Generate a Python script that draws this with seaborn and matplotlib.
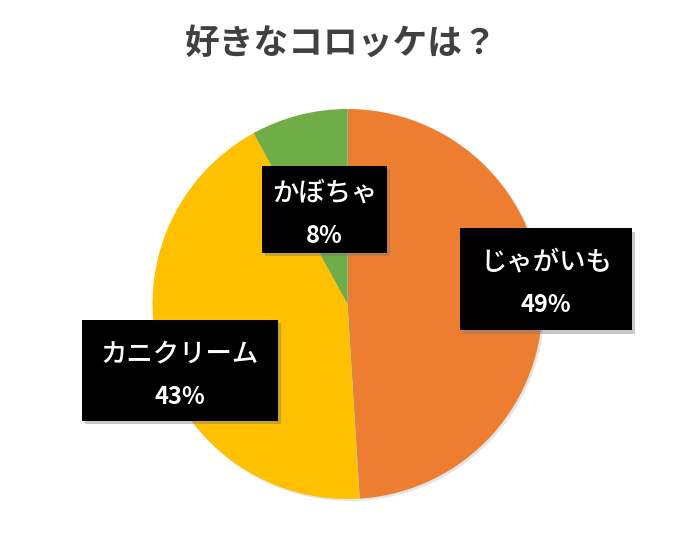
import matplotlib
matplotlib.use("Agg")
import matplotlib.pyplot as plt
import matplotlib.patheffects as pe
from matplotlib.patches import Rectangle
import seaborn as sns

# data
categories = ["じゃがいも", "カニクリーム", "かぼちゃ"]
shares = [49, 43, 8]
pct_labels = ["49%", "43%", "8%"]
colors = ["#ED7D31", "#FFC000", "#70AD47"]

# label box centers / sizes (in pie radius units)
box_centers = [(1.018, 0.128), (-0.859, -0.341), (-0.118, 0.485)]
box_sizes = [(0.882, 0.523), (1.005, 0.518), (0.641, 0.446)]

sns.set_theme(style="white")
plt.rcParams["font.family"] = ["Noto Sans CJK JP", "DejaVu Sans"]

W, H = 683, 539
fig = plt.figure(figsize=(W / 100, H / 100), dpi=100)
ax = fig.add_axes([0, 0, 1, 1])

cx, cy, r = 347.5, 304, 195
wedges, _ = ax.pie(shares, colors=colors, startangle=90, counterclock=False,
                   radius=1, wedgeprops=dict(linewidth=0))
for w in wedges:
    w.set_path_effects([pe.SimplePatchShadow(offset=(1.5, -1.5), shadow_rgbFace="#999999", alpha=0.25),
                        pe.Normal()])

ax.set_xlim(-cx / r, (W - cx) / r)
ax.set_ylim(-(H - cy) / r, cy / r)
ax.set_aspect("auto")
ax.axis("off")

for name, pct, (bx, by), (bw, bh) in zip(categories, pct_labels, box_centers, box_sizes):
    rect = Rectangle((bx - bw / 2, by - bh / 2), bw, bh, facecolor="black",
                     edgecolor="none", zorder=5)
    rect.set_path_effects([pe.SimplePatchShadow(offset=(2.5, -2.5), shadow_rgbFace="#777777", alpha=0.4),
                           pe.Normal()])
    ax.add_patch(rect)
    ax.text(bx, by + 0.085, name, color="white", fontsize=19, fontweight="medium",
            ha="center", va="center", zorder=6)
    ax.text(bx, by - 0.135, pct, color="white", fontsize=17, fontweight="bold",
            ha="center", va="center", zorder=6)

fig.text(0.5, 1 - 43 / H, "好きなコロッケは？", ha="center", va="center",
         fontsize=25, fontweight="bold", color="#404040")

fig.savefig("out.png", dpi=100)
